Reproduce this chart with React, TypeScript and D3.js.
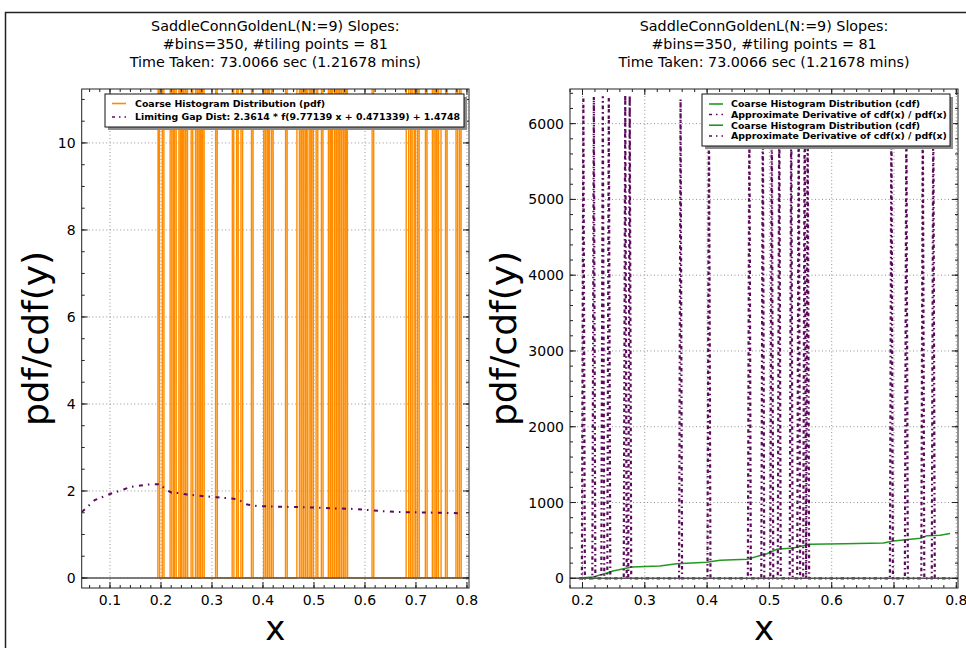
import React from "react";
import * as d3 from "d3";

const titleLines = [
  "SaddleConnGoldenL(N:=9) Slopes:",
  "#bins=350, #tiling points = 81",
  "Time Taken: 73.0066 sec (1.21678 mins)",
];

const NBINS = 350;
const DERIV_BINS = 250;
const BIN_LO = 0.193;
const BIN_HI = 0.793;

// Left panel: coarse histogram pdf spikes (bin centres, values)
const pdfSpikeX = [
  0.1948, 0.2046, 0.219, 0.2229, 0.2275, 0.236, 0.2418, 0.2458, 0.2503, 0.2601,
  0.2699, 0.2745, 0.2797, 0.283, 0.3092, 0.3405, 0.3497, 0.3582, 0.3797, 0.4026,
  0.4072, 0.4124, 0.419, 0.4464, 0.4673, 0.4706, 0.4739, 0.4771, 0.4824, 0.4856,
  0.4922, 0.4974, 0.5065, 0.517, 0.5294, 0.5346, 0.5412, 0.5477, 0.5523, 0.5562,
  0.5608, 0.5641, 0.6163, 0.6817, 0.685, 0.6915, 0.698, 0.7046, 0.7209, 0.734,
  0.7373, 0.7418, 0.7458, 0.7484, 0.7601, 0.7797, 0.7863,
];
const pdfSpikeY = [
  48, 96, 145, 97, 194, 96, 48, 145, 97, 96,
  145, 96, 48, 97, 96, 48, 97, 145, 96, 97,
  145, 48, 96, 97, 145, 194, 97, 96, 145, 48,
  96, 97, 145, 96, 97, 48, 96, 145, 97, 194,
  96, 48, 97, 96, 145, 97, 48, 96, 97, 145,
  194, 96, 48, 97, 96, 145, 97,
];

// Left panel: limiting gap distribution curve
const gapX = [0.045, 0.07, 0.1, 0.14, 0.168, 0.184, 0.2, 0.208, 0.221, 0.236, 0.251, 0.28, 0.31, 0.343, 0.355, 0.369, 0.388, 0.427, 0.486, 0.539, 0.584, 0.617, 0.657, 0.696, 0.741, 0.785];
const gapY = [1.52, 1.79, 1.93, 2.09, 2.14, 2.16, 2.15, 2.04, 1.96, 1.95, 1.92, 1.885, 1.855, 1.82, 1.78, 1.69, 1.655, 1.64, 1.625, 1.6, 1.585, 1.55, 1.52, 1.51, 1.5, 1.49];

// Right panel: cumulative histogram
const cdfX = [0.196, 0.217, 0.239, 0.249, 0.279, 0.324, 0.351, 0.399, 0.421, 0.464, 0.496, 0.512, 0.538, 0.565, 0.619, 0.683, 0.699, 0.742, 0.753, 0.774, 0.79];
const cdfY = [4, 17, 70, 97, 149, 163, 193, 211, 237, 251, 325, 382, 400, 448, 457, 466, 492, 528, 563, 567, 590];

// Right panel: approximate derivative spikes
const derivSpikeX = [0.2013, 0.2173, 0.2334, 0.243, 0.268, 0.276, 0.3565, 0.402, 0.469, 0.49, 0.504, 0.516, 0.536, 0.546, 0.557, 0.562, 0.696, 0.72, 0.747, 0.762];
const derivSpikeY = [6340, 6350, 6360, 6345, 6380, 6370, 6320, 6310, 6330, 6340, 6350, 6330, 6320, 6340, 6330, 6320, 6330, 6340, 6320, 6330];

const leftXTicks = [0.1, 0.2, 0.3, 0.4, 0.5, 0.6, 0.7, 0.8];
const leftYTicks = [0, 2, 4, 6, 8, 10];
const rightXTicks = [0.2, 0.3, 0.4, 0.5, 0.6, 0.7, 0.8];
const rightYTicks = [0, 1000, 2000, 3000, 4000, 5000, 6000];

const legendLeft = ["Coarse Histogram Distribution (pdf)", "Limiting Gap Dist: 2.3614 * f(9.77139 x + 0.471339) + 1.4748"];
const legendRight = [
  "Coarse Histogram Distribution (cdf)",
  "Approximate Derivative of cdf(x) / pdf(x)",
  "Coarse Histogram Distribution (cdf)",
  "Approximate Derivative of cdf(x) / pdf(x)",
];

const ORANGE = "#ff8c00";
const PURPLE = "#5c0a5c";
const GREEN = "#1f9a1f";
const FONT = "DejaVu Sans";

function spikeSeries(xs: number[], ys: number[], nb: number): [number, number][] {
  const w = (BIN_HI - BIN_LO) / nb;
  const vals = new Array(nb).fill(0);
  xs.forEach((x, i) => {
    const k = Math.floor((x - BIN_LO) / w);
    if (k >= 0 && k < nb) vals[k] = Math.max(vals[k], ys[i]);
  });
  return vals.map((v, k) => [BIN_LO + (k + 0.5) * w, v] as [number, number]);
}

function range(a: number, b: number, s: number) {
  const out: number[] = [];
  for (let v = a; v <= b + 1e-9; v += s) out.push(+v.toFixed(6));
  return out;
}

type AxesProps = {
  id: string;
  x0: number; x1: number; y0: number; y1: number;
  xDom: [number, number]; yDom: [number, number];
  xTicks: number[]; yTicks: number[];
  xMinor: number[]; yMinor: number[];
  yLabelX: number;
  xFmt: (v: number) => string; yFmt: (v: number) => string;
  children: (x: d3.ScaleLinear<number, number>, y: d3.ScaleLinear<number, number>) => React.ReactNode;
  overlay?: React.ReactNode;
};

function Axes(p: AxesProps) {
  const x = d3.scaleLinear().domain(p.xDom).range([p.x0, p.x1]);
  const y = d3.scaleLinear().domain(p.yDom).range([p.y1, p.y0]);
  const cx = (p.x0 + p.x1) / 2;
  const maj = 6, mnr = 3;
  return (
    <g>
      <defs>
        <clipPath id={p.id}>
          <rect x={p.x0} y={p.y0} width={p.x1 - p.x0} height={p.y1 - p.y0} />
        </clipPath>
      </defs>
      {p.xTicks.map((t) => (
        <line key={"gx" + t} x1={x(t)} x2={x(t)} y1={p.y0} y2={p.y1} stroke="#777" strokeWidth={0.8} strokeDasharray="1,2.5" />
      ))}
      {p.yTicks.map((t) => (
        <line key={"gy" + t} x1={p.x0} x2={p.x1} y1={y(t)} y2={y(t)} stroke="#777" strokeWidth={0.8} strokeDasharray="1,2.5" />
      ))}
      <g clipPath={`url(#${p.id})`}>
        {p.children(x, y)}
        <line x1={p.x0} x2={p.x1} y1={y(0)} y2={y(0)} stroke="#555" strokeWidth={1.5} />
      </g>
      <rect x={p.x0} y={p.y0} width={p.x1 - p.x0} height={p.y1 - p.y0} fill="none" stroke="#222" strokeWidth={1} />
      {p.xTicks.map((t) => (
        <g key={"tx" + t}>
          <line x1={x(t)} x2={x(t)} y1={p.y1} y2={p.y1 - maj} stroke="#222" />
          <line x1={x(t)} x2={x(t)} y1={p.y0} y2={p.y0 + maj} stroke="#222" />
          <text x={x(t)} y={p.y1 + 16.5} textAnchor="middle" fontFamily={FONT} fontSize={14}>{p.xFmt(t)}</text>
        </g>
      ))}
      {p.xMinor.map((t) => (
        <g key={"mx" + t}>
          <line x1={x(t)} x2={x(t)} y1={p.y1} y2={p.y1 - mnr} stroke="#222" />
          <line x1={x(t)} x2={x(t)} y1={p.y0} y2={p.y0 + mnr} stroke="#222" />
        </g>
      ))}
      {p.yTicks.map((t) => (
        <g key={"ty" + t}>
          <line x1={p.x0} x2={p.x0 + maj} y1={y(t)} y2={y(t)} stroke="#222" />
          <line x1={p.x1} x2={p.x1 - maj} y1={y(t)} y2={y(t)} stroke="#222" />
          <text x={p.x0 - 6} y={y(t) + 5} textAnchor="end" fontFamily={FONT} fontSize={14}>{p.yFmt(t)}</text>
        </g>
      ))}
      {p.yMinor.map((t) => (
        <g key={"my" + t}>
          <line x1={p.x0} x2={p.x0 + mnr} y1={y(t)} y2={y(t)} stroke="#222" />
          <line x1={p.x1} x2={p.x1 - mnr} y1={y(t)} y2={y(t)} stroke="#222" />
        </g>
      ))}
      {titleLines.map((s, i) => (
        <text key={"t" + i} x={cx} y={31 + i * 18} textAnchor="middle" fontFamily={FONT} fontSize={14.3}>{s}</text>
      ))}
      <text x={cx} y={639.5} textAnchor="middle" fontFamily={FONT} fontSize={34}>x</text>
      <text transform={`translate(${p.yLabelX},${(p.y0 + p.y1) / 2}) rotate(-90)`} textAnchor="middle" fontFamily={FONT} fontSize={36}>pdf/cdf(y)</text>
      {p.overlay}
    </g>
  );
}

function Legend({ x, y, w, h, items, rowY, textX }: { x: number; y: number; w: number; h: number; items: { label: string; color: string; dash?: string }[]; rowY: number[]; textX: number }) {
  return (
    <g>
      <rect x={x + 3} y={y + 3} width={w} height={h} fill="#8c8c8c" />
      <rect x={x} y={y} width={w} height={h} fill="white" stroke="#111" strokeWidth={1} />
      {items.map((it, i) => (
        <g key={i}>
          <line x1={x + 7} x2={x + 21} y1={rowY[i]} y2={rowY[i]} stroke={it.color} strokeWidth={1.6} strokeDasharray={it.dash} />
          <text x={textX} y={rowY[i] + 3.4} fontFamily={FONT} fontWeight="bold" fontSize={9.4}>{it.label}</text>
        </g>
      ))}
    </g>
  );
}

export default function App() {
  const pdfSeries = spikeSeries(pdfSpikeX, pdfSpikeY, NBINS);
  const derivSeries = spikeSeries(derivSpikeX, derivSpikeY, DERIV_BINS);
  const gapSeries = gapX.map((v, i) => [v, gapY[i]] as [number, number]);
  const cdfSeries = cdfX.map((v, i) => [v, cdfY[i]] as [number, number]);

  return (
    <svg width={966} height={648} style={{ position: "absolute", left: 0, top: 0, background: "white" }}>
      <rect x={0} y={0} width={966} height={648} fill="white" />
      <rect x={5.5} y={12.5} width={975} height={660} fill="none" stroke="#222" strokeWidth={1.5} />
      <Axes
        id="clipL"
        x0={81.7} x1={469} y0={89} y1={588}
        xDom={[0.0445, 0.804]} yDom={[-0.23, 11.24]}
        xTicks={leftXTicks} yTicks={leftYTicks}
        xMinor={range(0.06, 0.8, 0.02)} yMinor={range(0, 11, 0.5)}
        yLabelX={48}
        xFmt={(v) => v.toFixed(1)} yFmt={(v) => String(v)}
        overlay={
          <Legend
            x={105} y={94} w={359} h={33}
            textX={135}
            rowY={[103.5, 117]}
            items={[
              { label: legendLeft[0], color: ORANGE },
              { label: legendLeft[1], color: PURPLE, dash: "3,4,1.5,4" },
            ]}
          />
        }
      >
        {(x, y) => {
          const line = d3.line<[number, number]>().x((d) => x(d[0])).y((d) => y(d[1]));
          return (
            <g>
              <path d={line(pdfSeries) || ""} fill="none" stroke={ORANGE} strokeWidth={1.4} />
              <path d={line(gapSeries) || ""} fill="none" stroke={PURPLE} strokeWidth={2} strokeDasharray="4,5,1.5,5.5" />
            </g>
          );
        }}
      </Axes>
      <Axes
        id="clipR"
        x0={570} x1={958} y0={89} y1={588}
        xDom={[0.17994, 0.8027]} yDom={[-128, 6457]}
        xTicks={rightXTicks} yTicks={rightYTicks}
        xMinor={range(0.18, 0.8, 0.02)} yMinor={range(0, 6400, 200)}
        yLabelX={516}
        xFmt={(v) => v.toFixed(1)} yFmt={(v) => String(v)}
        overlay={
          <Legend
            x={702} y={94} w={248} h={52}
            textX={731}
            rowY={[104, 114.5, 125.2, 136]}
            items={[
              { label: legendRight[0], color: GREEN },
              { label: legendRight[1], color: PURPLE, dash: "3,4,1.5,4" },
              { label: legendRight[2], color: GREEN },
              { label: legendRight[3], color: PURPLE, dash: "3,4,1.5,4" },
            ]}
          />
        }
      >
        {(x, y) => {
          const line = d3.line<[number, number]>().x((d) => x(d[0])).y((d) => y(d[1]));
          return (
            <g>
              <path d={line(cdfSeries) || ""} fill="none" stroke={GREEN} strokeWidth={1.5} />
              <path d={line(derivSeries) || ""} fill="none" stroke={PURPLE} strokeWidth={2.2} strokeDasharray="3.5,3,1.5,3" />
            </g>
          );
        }}
      </Axes>
    </svg>
  );
}
